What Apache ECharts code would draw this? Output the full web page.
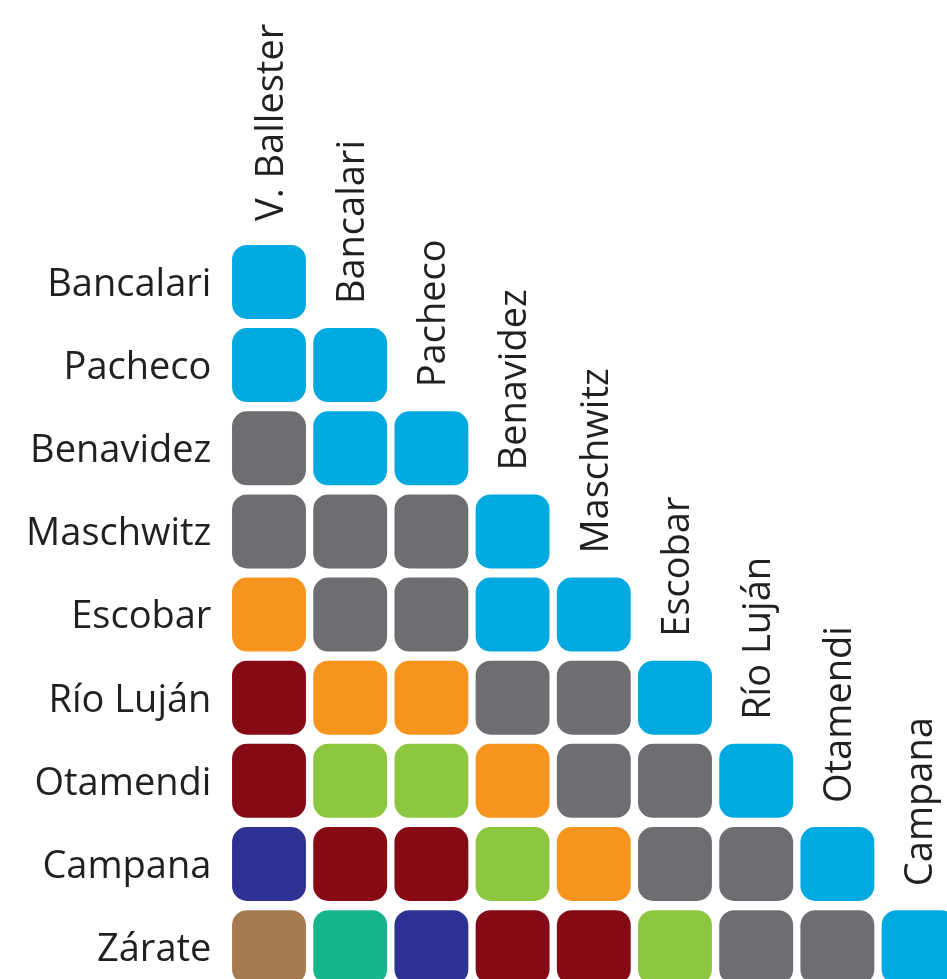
<!DOCTYPE html>
<html>
<head>
<meta charset="utf-8">
<script src="https://cdn.jsdelivr.net/npm/echarts@6/dist/echarts.min.js"></script>
<style>
  html, body { margin: 0; padding: 0; background: #fff; }
  #chart { width: 947px; height: 979px; }
</style>
</head>
<body>
<div id="chart"></div>
<script>
// stations along the line
var colLabels = ['V. Ballester', 'Bancalari', 'Pacheco', 'Benavidez', 'Maschwitz', 'Escobar', 'Río Luján', 'Otamendi', 'Campana'];
var rowLabels = ['Bancalari', 'Pacheco', 'Benavidez', 'Maschwitz', 'Escobar', 'Río Luján', 'Otamendi', 'Campana', 'Zárate'];

// fare section of every origin/destination pair (row by row, left to right)
var sections = [
  [1],
  [1, 1],
  [2, 1, 1],
  [2, 2, 2, 1],
  [3, 2, 2, 1, 1],
  [5, 3, 3, 2, 2, 1],
  [5, 4, 4, 3, 2, 2, 1],
  [6, 5, 5, 4, 3, 2, 2, 1],
  [8, 7, 6, 5, 5, 4, 2, 2, 1]
];

var sectionColors = {
  1: '#00A9E0',
  2: '#6D6E71',
  3: '#F7941D',
  4: '#8DC63F',
  5: '#850A15',
  6: '#2E3192',
  7: '#17B68A',
  8: '#A67B50'
};

var cells = [];
sections.forEach(function (row, r) {
  row.forEach(function (s, c) {
    cells.push([c, r, s]);
  });
});

var FONT = 'Open Sans';
var TEXT = '#231F20';
var myChart = echarts.init(document.getElementById('chart'));

// the matrix runs off the right and bottom edge, so the axes stop short of the last band
var option = {
  animation: false,
  grid: { left: 228.4, top: 240.4, right: 0, bottom: 0 },
  xAxis: { type: 'value', min: -0.5, max: 8.35, show: false },
  yAxis: { type: 'value', min: -0.5, max: 8.383, inverse: true, show: false },
  series: [{
    type: 'custom',
    data: cells,
    renderItem: function (params, api) {
      var p = api.coord([api.value(0), api.value(1)]);
      var s = api.size([1, 1]);
      var w = s[0] * 0.91, h = s[1] * 0.89;
      return {
        type: 'rect',
        shape: { x: p[0] - w / 2, y: p[1] - h / 2, width: w, height: h, r: 15 },
        style: { fill: sectionColors[api.value(2)] }
      };
    }
  }, {
    // destination names, standing on top of the first cell of each column
    type: 'custom',
    data: colLabels.map(function (n, i) { return [i, i]; }),
    renderItem: function (params, api) {
      var p = api.coord([api.value(0), api.value(1)]);
      var s = api.size([1, 1]);
      return {
        type: 'text',
        x: p[0] + 3,
        y: p[1] - s[1] * 0.445 - 24,
        rotation: Math.PI / 2,
        style: {
          text: colLabels[params.dataIndex],
          fontFamily: FONT,
          fontSize: 38,
          fill: TEXT,
          align: 'left',
          verticalAlign: 'middle'
        }
      };
    }
  }, {
    // origin names on the left
    type: 'custom',
    data: rowLabels.map(function (n, i) { return [-0.5, i]; }),
    renderItem: function (params, api) {
      var p = api.coord([api.value(0), api.value(1)]);
      return {
        type: 'text',
        x: p[0] - 17,
        y: p[1] + 3,
        style: {
          text: rowLabels[params.dataIndex],
          fontFamily: FONT,
          fontSize: 38,
          fill: TEXT,
          align: 'right',
          verticalAlign: 'middle'
        }
      };
    }
  }]
};

myChart.setOption(option);
</script>
</body>
</html>
